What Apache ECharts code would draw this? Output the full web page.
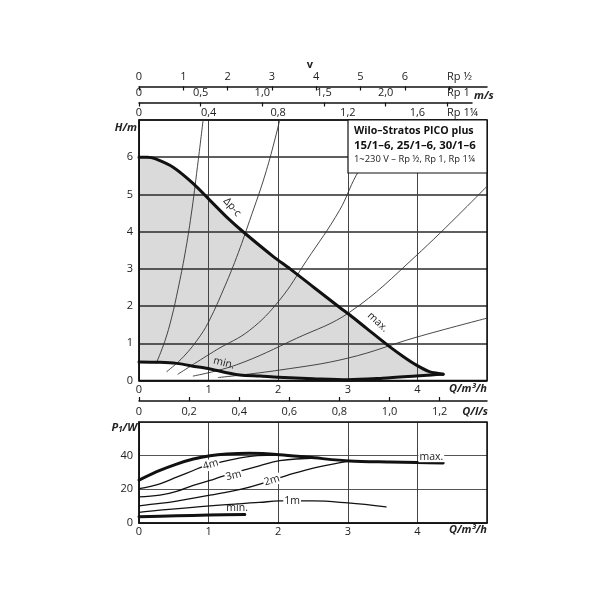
<!DOCTYPE html>
<html><head><meta charset="utf-8">
<script src="https://cdn.jsdelivr.net/npm/echarts@6/dist/echarts.min.js"></script>
<style>html,body{margin:0;padding:0;background:#fff}#c{width:600px;height:600px}</style>
</head><body><div id="c"></div>
<script>
// ---------- data ----------
// Head curves H/m over Q/m3/h
const maxQ = [0, 0.12, 0.23, 0.49, 0.78, 1.02, 1.26, 1.5, 1.93, 2.17, 2.5, 2.88, 3.03, 3.27, 3.6, 3.8, 3.98, 4.17, 4.3, 4.37];
const maxH = [6.0, 6.0, 5.96, 5.73, 5.29, 4.84, 4.39, 3.99, 3.33, 3.0, 2.52, 1.97, 1.76, 1.4, 0.91, 0.64, 0.42, 0.24, 0.19, 0.17];
const minQ = [0, 0.3, 0.54, 0.83, 1.02, 1.26, 1.45, 1.74, 2.0, 2.5, 3.0, 3.5, 3.98, 4.2, 4.37];
const minH = [0.5, 0.49, 0.46, 0.37, 0.31, 0.21, 0.15, 0.12, 0.09, 0.05, 0.02, 0.06, 0.12, 0.15, 0.17];
// System (pipe) curves
const sysAQ = [0.25, 0.37, 0.47, 0.56, 0.66, 0.75, 0.84, 0.92];
const sysAH = [0.47, 1.05, 1.7, 2.45, 3.4, 4.45, 5.75, 6.98];
const sysBQ = [0.4, 0.64, 0.88, 1.02, 1.21, 1.4, 1.59, 1.83, 2.02];
const sysBH = [0.24, 0.64, 1.2, 1.65, 2.43, 3.3, 4.3, 5.64, 6.98];
const sysCQ = [0.56, 1.11, 1.59, 2.02, 2.41, 2.88, 3.12, 3.3];
const sysCH = [0.17, 0.82, 1.35, 2.16, 3.23, 4.57, 5.51, 6.0];
const sysDQ = [0.78, 1.4, 2.26, 3.03, 3.98, 4.99];
const sysDH = [0.12, 0.42, 1.13, 1.84, 3.35, 5.2];
const sysEQ = [1.14, 2.02, 3.0, 3.98, 4.99];
const sysEH = [0.08, 0.28, 0.6, 1.16, 1.67];
// Power curves P1/W over Q/m3/h
const pMaxQ = [0, 0.3, 0.54, 0.78, 1.02, 1.26, 1.59, 2.02, 2.45, 3.03, 3.6, 4.0, 4.37];
const pMaxP = [25.5, 31.2, 35, 38, 40, 41, 41.4, 40.6, 39, 36.8, 36.2, 35.9, 35.6];
const p4mQ = [0, 0.3, 0.54, 0.78, 0.92, 1.16, 1.5, 1.7, 2.0, 2.4];
const p4mP = [20.4, 23.3, 27.2, 31.2, 33.5, 36, 39, 40, 40.3, 39.4];
const p3mQ = [0, 0.3, 0.54, 0.78, 1.02, 1.16, 1.45, 1.73, 2.02, 2.55];
const p3mP = [15.5, 16.5, 18.8, 22.4, 25.3, 27.2, 30.8, 34, 37, 38.6];
const p2mQ = [0, 0.3, 0.54, 1.02, 1.5, 1.78, 2.12, 2.55, 3.03];
const p2mP = [10.2, 11.6, 13, 16.5, 20.4, 23.7, 28.2, 33.1, 36.8];
const p1mQ = [0, 0.3, 1.02, 1.73, 2.02, 2.5, 3.0, 3.55];
const p1mP = [6.3, 7.6, 10.2, 12.2, 13.1, 13.1, 11.9, 9.6];
const pMinQ = [0, 0.54, 1.0, 1.52];
const pMinP = [3.7, 4.3, 4.7, 5.1];
// axis ranges / tick steps
const qRange = [0, 5], qStep = 1;
const hRange = [0, 7], hStep = 1;
const pRange = [0, 60], pStep = 20;
const lsRange = [0, 5 / 3.6], lsStep = 0.2;
const v12Range = [0, 7.855], v12Step = 1;     // Rp 1/2
const v1Range = [0, 2.70], v1Step = 0.5;      // Rp 1
const v114Range = [0, 2.0], v114Step = 0.4;   // Rp 1 1/4
// texts
const titleLines = ['Wilo–Stratos PICO plus', '15/1–6, 25/1–6, 30/1–6', '1~230 V – Rp ½, Rp 1, Rp 1¼'];

// ---------- build ----------
const zip = (a, b) => a.map((v, i) => [v, b[i]]);
const FONT = 'Open Sans';
const TXT = '#222';
const isStep = (v, s) => Math.abs(v / s - Math.round(v / s)) < 1e-6;
const comma = s => v => (!isStep(v, s) ? '' : (v === 0 ? '0' : v.toFixed(1).replace('.', ',')));
const integ = (s, skip) => v => (!isStep(v, s) || v === skip ? '' : String(Math.round(v)));

const chart = echarts.init(document.getElementById('c'), null, {renderer: 'canvas'});

const lbl = {fontFamily: FONT, fontSize: 11, color: TXT};
const option = {
  animation: false,
  backgroundColor: '#fff',
  grid: [
    {left: 139, top: 120, width: 348, height: 260.5, show: true, borderColor: '#111', borderWidth: 1.5, z: 4},
    {left: 139, top: 422, width: 348, height: 101, show: true, borderColor: '#111', borderWidth: 1.5, z: 4},
    {left: 139, top: 86.5, width: 348, height: 1},
    {left: 139, top: 102.5, width: 333, height: 1}
  ],
  xAxis: [
    {gridIndex: 0, type: 'value', min: qRange[0], max: qRange[1], interval: qStep, position: 'bottom', z: 3,
     axisLine: {lineStyle: {color: '#111', width: 1.5}}, axisTick: {show: false},
     axisLabel: Object.assign({margin: 4, formatter: integ(qStep, 5)}, lbl),
     splitLine: {show: true, lineStyle: {color: '#444', width: 1}}},
    {gridIndex: 0, type: 'value', min: lsRange[0], max: lsRange[1], interval: lsStep, position: 'bottom', offset: 20.5, z: 3,
     axisLine: {onZero: false, lineStyle: {color: '#111', width: 1.5}},
     axisTick: {inside: true, length: 4, lineStyle: {color: '#111', width: 1.2}},
     axisLabel: Object.assign({margin: 5, formatter: comma(lsStep), showMaxLabel: false}, lbl),
     splitLine: {show: false}},
    {gridIndex: 0, type: 'value', min: v114Range[0], max: v114Range[1], interval: v114Step, position: 'top', z: 3,
     axisLine: {show: false}, axisTick: {show: false},
     axisLabel: Object.assign({margin: 2, formatter: comma(v114Step), showMaxLabel: false}, lbl),
     splitLine: {show: false}},
    {gridIndex: 2, type: 'value', min: v12Range[0], max: v12Range[1], interval: v12Step, position: 'top',
     axisLine: {onZero: false, lineStyle: {color: '#111', width: 1.5}},
     axisTick: {inside: true, length: 4, lineStyle: {color: '#111', width: 1.2}},
     axisLabel: Object.assign({margin: 4, formatter: integ(v12Step, 7), showMaxLabel: false}, lbl),
     splitLine: {show: false}},
    {gridIndex: 3, type: 'value', min: v1Range[0], max: v1Range[1], interval: v1Step, position: 'top',
     axisLine: {onZero: false, lineStyle: {color: '#111', width: 1.5}},
     axisTick: {inside: true, length: 4, lineStyle: {color: '#111', width: 1.2}},
     axisLabel: Object.assign({margin: 4, formatter: v => (v === 2.5 ? '' : comma(v1Step)(v)), showMaxLabel: false}, lbl),
     splitLine: {show: false}},
    {gridIndex: 1, type: 'value', min: qRange[0], max: qRange[1], interval: qStep, position: 'bottom', z: 3,
     axisLine: {lineStyle: {color: '#111', width: 1.5}}, axisTick: {show: false},
     axisLabel: Object.assign({margin: 3, formatter: integ(qStep, 5)}, lbl),
     splitLine: {show: true, lineStyle: {color: '#444', width: 1}}}
  ],
  yAxis: [
    {gridIndex: 0, type: 'value', min: hRange[0], max: hRange[1], interval: hStep, z: 3,
     axisLine: {show: true, lineStyle: {color: '#111', width: 1.5}}, axisTick: {show: false},
     axisLabel: Object.assign({margin: 6, formatter: integ(hStep, 7)}, lbl),
     splitLine: {show: true, lineStyle: {color: '#2a2a2a', width: 1.5}}},
    {gridIndex: 1, type: 'value', min: pRange[0], max: pRange[1], interval: pStep, z: 3,
     axisLine: {show: true, lineStyle: {color: '#111', width: 1.5}}, axisTick: {show: false},
     axisLabel: Object.assign({margin: 6, formatter: integ(pStep, 60)}, lbl),
     splitLine: {show: true, lineStyle: {color: '#555', width: 1}}},
    {gridIndex: 2, type: 'value', show: false},
    {gridIndex: 3, type: 'value', show: false}
  ],
  series: []
};

// gray operating field between max and min curves
const fieldPts = zip(maxQ, maxH).concat(zip(minQ, minH).reverse());
option.series.push({
  type: 'custom', xAxisIndex: 0, yAxisIndex: 0, z: 1, silent: true,
  data: [[0, 0]],
  renderItem: (params, api) => {
    const pts = fieldPts.map(p => api.coord(p));
    return {type: 'polygon', shape: {points: pts}, style: {fill: '#dadada'}};
  }
});
const line = (q, v, w, xi, yi, z, color, smooth) => ({
  type: 'line', xAxisIndex: xi, yAxisIndex: yi, data: zip(q, v), showSymbol: false, symbol: 'none',
  smooth: smooth === undefined ? 0.3 : smooth, z: z, silent: true,
  lineStyle: {color: color || '#111', width: w, cap: 'round', join: 'round'}
});
[[sysAQ, sysAH], [sysBQ, sysBH], [sysCQ, sysCH], [sysDQ, sysDH], [sysEQ, sysEH]].forEach(s =>
  option.series.push(line(s[0], s[1], 0.9, 0, 0, 4, '#333', 0.4)));
option.series.push(line(maxQ, maxH, 3, 0, 0, 5));
option.series.push(line(minQ, minH, 3, 0, 0, 5));
option.series.push(line(pMaxQ, pMaxP, 3, 5, 1, 5));
[[p4mQ, p4mP], [p3mQ, p3mP], [p2mQ, p2mP], [p1mQ, p1mP]].forEach(s =>
  option.series.push(line(s[0], s[1], 1.3, 5, 1, 5, '#111', 0.4)));
option.series.push(line(pMinQ, pMinP, 3, 5, 1, 5));

chart.setOption(option);

// ---------- annotations ----------
const px = (grid, q, v) => chart.convertToPixel({xAxisIndex: grid === 0 ? 0 : 5, yAxisIndex: grid === 0 ? 0 : 1}, [q, v]);
const curveLabels = [
  {t: 'Δp-c', g: 0, q: 1.34, v: 4.66, r: -0.85, bg: false},
  {t: 'max.', g: 0, q: 3.43, v: 1.57, r: -0.75, bg: false},
  {t: 'min.', g: 0, q: 1.22, v: 0.47, r: -0.25, bg: false},
  {t: '4m', g: 1, q: 1.03, v: 34.7, r: 0.3, bg: true},
  {t: '3m', g: 1, q: 1.36, v: 28.2, r: 0.25, bg: true},
  {t: '2m', g: 1, q: 1.91, v: 25.3, r: 0.3, bg: true},
  {t: '1m', g: 1, q: 2.2, v: 13.2, r: 0, bg: true},
  {t: 'min.', g: 1, q: 1.41, v: 8.8, r: 0, bg: false},
  {t: 'max.', g: 1, q: 4.2, v: 39.4, r: 0, bg: true}
];
const T = (x, y, text, o) => ({
  type: 'text', x: x, y: y, z: 20, silent: true,
  style: Object.assign({text: text, fontFamily: FONT, fontSize: 11, fill: TXT, align: 'left', verticalAlign: 'middle'}, o || {})
});
const graphics = [];
curveLabels.forEach(c => {
  const p = px(c.g, c.q, c.v);
  const el = {type: 'text', x: p[0], y: p[1], rotation: c.r, z: 20, silent: true,
    style: {text: c.t, fontFamily: FONT, fontSize: 10.5, fill: TXT, align: 'center', verticalAlign: 'middle'}};
  if (c.bg) { el.style.backgroundColor = '#fff'; el.style.padding = [0, 1]; }
  graphics.push(el);
});
// title box
graphics.push({type: 'rect', z: 15, silent: true, shape: {x: 348, y: 120, width: 139, height: 53},
  style: {fill: '#fff', stroke: '#111', lineWidth: 1.2}});
graphics.push(T(354, 131, titleLines[0], {fontWeight: 'bold', fontSize: 10.6, fill: '#111'}));
graphics.push(T(354, 145.5, titleLines[1], {fontWeight: 'bold', fontSize: 11.4, fill: '#111'}));
graphics.push(T(354, 159, titleLines[2], {fontSize: 9.4, fill: '#222'}));
// axis captions
graphics.push(T(310, 65, 'v', {fontWeight: 'bold', align: 'center'}));
graphics.push(T(447, 77, 'Rp ½'));
graphics.push(T(447, 93, 'Rp 1'));
graphics.push(T(474, 96, 'm/s', {fontWeight: 'bold', fontStyle: 'italic'}));
graphics.push(T(447, 113, 'Rp 1¼'));
graphics.push(T(137, 128, 'H/m', {fontWeight: 'bold', fontStyle: 'italic', align: 'right'}));
graphics.push(T(487, 389, 'Q/m³/h', {fontWeight: 'bold', fontStyle: 'italic', align: 'right'}));
graphics.push(T(488, 412, 'Q/l/s', {fontWeight: 'bold', fontStyle: 'italic', align: 'right'}));
graphics.push(T(487, 530, 'Q/m³/h', {fontWeight: 'bold', fontStyle: 'italic', align: 'right'}));
graphics.push({type: 'text', x: 137, y: 428, z: 20, silent: true,
  style: {text: '{p|P}{s|1}{p|/W}', align: 'right', verticalAlign: 'middle',
    rich: {p: {fontFamily: FONT, fontSize: 11, fontWeight: 'bold', fontStyle: 'italic', fill: TXT},
           s: {fontFamily: FONT, fontSize: 8, fontWeight: 'bold', fontStyle: 'italic', fill: TXT, verticalAlign: 'bottom', padding: [4, 0, 0, 0]}}}});
chart.setOption({graphic: graphics});
</script></body></html>
